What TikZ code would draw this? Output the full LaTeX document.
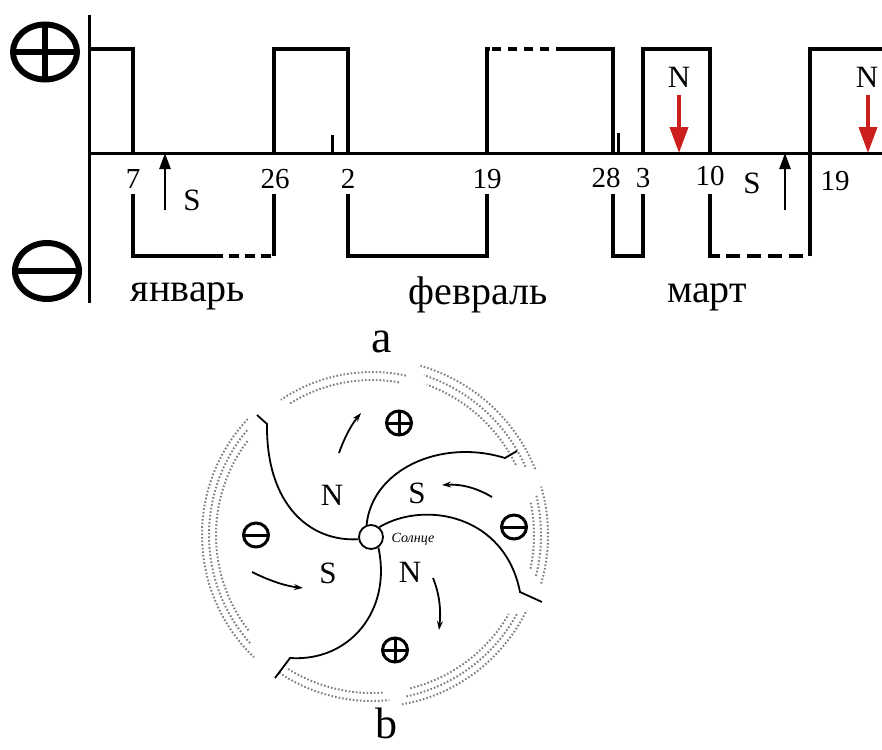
\documentclass[tikz,border=0pt]{standalone}
\usepackage{fontspec}
\setmainfont{Liberation Serif}
\usetikzlibrary{arrows.meta}
\definecolor{northred}{RGB}{205,30,30}

\begin{document}
\begin{tikzpicture}[x=1pt,y=-1pt,
  axisline/.style={line width=3pt},
  wave/.style={line width=4.5pt,line join=miter},
  wavedash/.style={wave,dash pattern=on 10pt off 6pt},
  tick/.style={line width=3pt},
  num/.style={font=\fontsize{29}{30}\selectfont,anchor=base,inner sep=0pt},
  pole/.style={font=\fontsize{31}{32}\selectfont,anchor=base,inner sep=0pt},
  month/.style={font=\fontsize{40}{42}\selectfont,anchor=base,inner sep=0pt},
  panel/.style={font=\fontsize{46}{48}\selectfont,anchor=base,inner sep=0pt},
  bigsign/.style={line width=6pt},
  smallsign/.style={line width=3pt},
  northarrow/.style={draw=northred,line width=4pt,-{Triangle[length=26pt,width=18pt,fill=northred]}},
  southarrow/.style={line width=2.5pt,-{Triangle[length=16pt,width=11pt]}},
  arm/.style={line width=1.8pt},
  flow/.style={line width=1.8pt,-{Stealth[length=9pt,width=6pt]}},
  sheet/.style={draw=black!50,line width=2pt,dash pattern=on 1.6pt off 2pt},
  caption/.style={font=\fontsize{14}{15}\selectfont\itshape,inner sep=0pt},
]
\useasboundingbox (0,0) rectangle (882,749);

% ---------- panel a: polarity of the field in time ----------
% polarity signs
\draw[bigsign] (45,52) ellipse [x radius=32pt, y radius=27.5pt];
\draw[bigsign] (13,52) -- (77,52) (45,24.5) -- (45,79.5);
\draw[bigsign] (47,271) ellipse [x radius=32pt, y radius=28pt];
\draw[bigsign] (15,271) -- (79,271);

% axes
\draw[axisline] (89,15) -- (89,303);
\draw[axisline] (89,153) -- (882,153);

% polarity curve
\draw[wave] (89,49) -- (133,49) -- (133,153);
\draw[wave] (133,194) -- (133,256) -- (213,256);
\draw[wavedash] (213,256) -- (274,256);
\draw[wave] (274,256) -- (274,194);
\draw[wave] (274,153) -- (274,49) -- (348,49) -- (348,153);
\draw[wave] (348,194) -- (348,256) -- (487,256) -- (487,194);
\draw[wave] (487,153) -- (487,49) -- (490,49);
\draw[wave,dash pattern=on 9pt off 7pt] (492,49) -- (560,49);
\draw[wave] (560,49) -- (613,49) -- (613,153);
\draw[wave] (613,194) -- (613,256) -- (643,256) -- (643,194);
\draw[wave] (643,153) -- (643,49) -- (710,49) -- (710,153);
\draw[wave] (710,194) -- (710,256) -- (720,256);
\draw[wave,dash pattern=on 14pt off 7pt] (726,256) -- (810,256);
\draw[wave] (810,256) -- (810,49) -- (882,49);

% small marks on the axis
\draw[tick] (332,135) -- (332,153);
\draw[tick] (618,133) -- (618,153);

% dates
\node[num] (d7)  at (133,188) {7};
\node[num] (d26) at (275,188) {26};
\node[num] (d2)  at (348,188) {2};
\node[num] (d19) at (487,188) {19};
\node[num] (d28) at (606,187) {28};
\node[num] (d3)  at (643,187) {3};
\node[num] (d10) at (710,185) {10};
\node[num] (d19b) at (835,190) {19};

% sector crossings
\node[pole] (sj) at (192,210) {S};
\node[pole] (sm) at (752,193) {S};
\node[pole] (n1) at (679,88) {N};
\node[pole] (n2) at (867,88) {N};

\coordinate (sja) at (165,210);
\coordinate (sjb) at (165,153);
\coordinate (sma) at (785,210);
\coordinate (smb) at (785,153);
\draw[southarrow] (sja) -- (sjb);
\draw[southarrow] (sma) -- (smb);

\coordinate (n1a) at (679,95);
\coordinate (n1b) at (679,153);
\coordinate (n2a) at (868,95);
\coordinate (n2b) at (868,153);
\draw[northarrow] (n1a) -- (n1b);
\draw[northarrow] (n2a) -- (n2b);

% months
\node[month] (jan) at (188,301) {январь};
\node[month] (feb) at (478,304) {февраль};
\node[month] (mar) at (707,302) {март};

\node[panel] (pa) at (382,352) {a};

% ---------- panel b: sector structure around the Sun ----------
\coordinate (hc) at (372,535);

% current sheet, dotted rings
\foreach \a/\b/\r in {78/124/163, 80/122/155,
                      22/74/176, 24/72/168, 26/70/160,
                      -16/16/176, -14/14/169, -12/12/162,
                      -80/-26/172, -78/-28/165, -76/-30/158,
                      -124/-84/166, -122/-86/158,
                      137/226/170, 140/222/163, 143/218/156}
  \draw[sheet] ([shift={(\a:\r pt)}]hc) arc[start angle=\a, end angle=\b, radius=\r pt];

% the Sun
\node[circle,draw,fill=white,line width=1.8pt,minimum size=24pt,inner sep=0pt] (sun) at (371,537) {};
\node[caption] (sunlabel) at (413,539) {Солнце};

% sector boundaries
\coordinate (ea) at (267,424);
\coordinate (eb) at (505,458);
\coordinate (ec) at (520,592);
\coordinate (ed) at (290,658);
\draw[arm] (sun.190) .. controls (310,542) and (266,505) .. (ea) -- (257,415);
\draw[arm] (sun.110) .. controls (372,470) and (440,438) .. (eb) -- (517,451);
\draw[arm] (sun.50) .. controls (425,500) and (505,515) .. (ec) -- (542,602);
\draw[arm] (sun.-55) .. controls (392,610) and (350,662) .. (ed) -- (275,678);

% sector polarities
\draw[smallsign] (399,423) ellipse [x radius=12.5pt, y radius=12pt];
\draw[smallsign] (386.5,423) -- (411.5,423) (399,411) -- (399,435);
\draw[smallsign] (395,650) ellipse [x radius=12.5pt, y radius=12pt];
\draw[smallsign] (382.5,650) -- (407.5,650) (395,638) -- (395,662);
\draw[smallsign] (256,535) ellipse [x radius=12.5pt, y radius=12pt];
\draw[smallsign] (243.5,535) -- (268.5,535);
\draw[smallsign] (514,527) ellipse [x radius=12.5pt, y radius=12pt];
\draw[smallsign] (501.5,527) -- (526.5,527);

\node[pole] (bn1) at (332,505) {N};
\node[pole] (bs1) at (417,503) {S};
\node[pole] (bs2) at (328,583) {S};
\node[pole] (bn2) at (410,582) {N};

% rotation arrows
\coordinate (f1a) at (339,453);
\coordinate (f1b) at (361,413);
\coordinate (f2a) at (492,497);
\coordinate (f2b) at (442,485);
\coordinate (f3a) at (252,572);
\coordinate (f3b) at (303,588);
\coordinate (f4a) at (433,578);
\coordinate (f4b) at (439,630);
\draw[flow] (f1a) .. controls (345,436) and (352,424) .. (f1b);
\draw[flow] (f2a) .. controls (475,487) and (460,484) .. (f2b);
\draw[flow] (f3a) .. controls (268,580) and (285,586) .. (f3b);
\draw[flow] (f4a) .. controls (440,595) and (441,612) .. (f4b);

\node[panel,font=\fontsize{44}{46}\selectfont] (pb) at (386,738) {b};
\end{tikzpicture}
\end{document}
